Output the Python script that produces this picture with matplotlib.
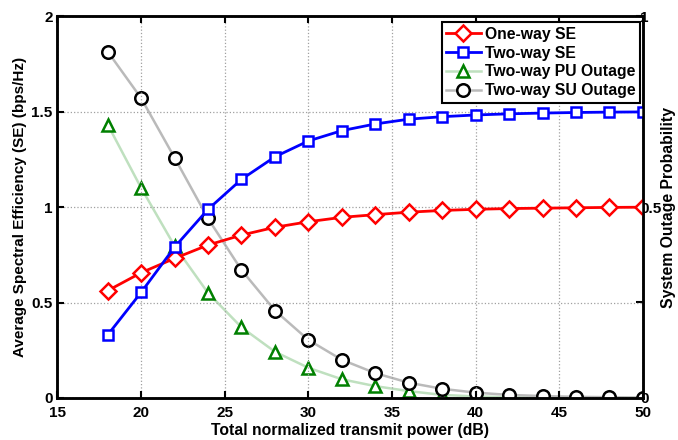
import numpy as np
import matplotlib
matplotlib.use('Agg')
import matplotlib.pyplot as plt

plt.rcParams['font.family'] = ['Liberation Sans', 'DejaVu Sans']
plt.rcParams['font.weight'] = 'bold'

# data
power_db = [18, 20, 22, 24, 26, 28, 30, 32, 34, 36, 38, 40, 42, 44, 46, 48, 50]
se_one_way = [0.562, 0.656, 0.731, 0.801, 0.853, 0.894, 0.923, 0.946, 0.960,
              0.973, 0.982, 0.988, 0.992, 0.994, 0.996, 0.998, 0.999]
se_two_way = [0.330, 0.553, 0.790, 0.988, 1.145, 1.263, 1.346, 1.400, 1.435,
              1.460, 1.473, 1.482, 1.488, 1.492, 1.495, 1.497, 1.498]
pu_outage = [0.716, 0.550, 0.398, 0.275, 0.185, 0.121, 0.079, 0.049, 0.031,
             0.018, 0.008, 0.004, 0.002, 0.001, 0.0008, 0.0005, 0.0003]
su_outage = [0.907, 0.785, 0.629, 0.470, 0.335, 0.229, 0.152, 0.100, 0.065,
             0.040, 0.024, 0.014, 0.008, 0.005, 0.003, 0.002, 0.001]

fig = plt.figure(figsize=(6.78, 4.4), dpi=100)
ax = fig.add_axes([0.0848, 0.0955, 0.8635, 0.868])
ax2 = ax.twinx()

h1, = ax.plot(power_db, se_one_way, color='red', lw=2, marker='D', ms=8,
              mfc='white', mec='red', mew=1.8, label='One-way SE')
h2, = ax.plot(power_db, se_two_way, color='blue', lw=2, marker='s', ms=7,
              mfc='white', mec='blue', mew=1.8, label='Two-way SE')
h3, = ax2.plot(power_db, pu_outage, color='#bfe0bf', lw=1.8, marker='^', ms=9,
               mfc='white', mec='green', mew=1.8, label='Two-way PU Outage')
h4, = ax2.plot(power_db, su_outage, color='#bababa', lw=1.8, marker='o', ms=9,
               mfc='white', mec='black', mew=1.8, label='Two-way SU Outage')
ax.set_zorder(ax2.get_zorder() + 1)
ax.patch.set_visible(False)

ax.set_xlim(15, 50)
ax.set_ylim(0, 2)
ax.set_xticks(range(15, 51, 5))
ax.set_yticks([0, 0.5, 1, 1.5, 2])
ax.set_yticklabels(['0', '0.5', '1', '1.5', '2'])
ax.grid(True, color='#a0a0a0', linestyle=':', linewidth=0.9)
ax.tick_params(direction='in', length=5, width=1.5, labelsize=11, top=True)
ax.tick_params(axis='x', pad=6)

ax2.set_ylim(0, 1)
ax2.set_yticks([0, 0.25, 0.5, 0.75, 1])
ax2.set_yticklabels(['0', '', '0.5', '', '1'])
ax2.tick_params(direction='in', length=5, width=1.5, labelsize=11, pad=-2)

for a in (ax, ax2):
    for s in a.spines.values():
        s.set_linewidth(1.8)

ax.set_xlabel('Total normalized transmit power (dB)', fontsize=11.3, fontweight='bold', labelpad=2)
ax.set_ylabel('Average Spectral Efficiency (SE) (bps/Hz)', fontsize=11, fontweight='bold')
ax.yaxis.set_label_coords(-0.064, 0.5)
ax.yaxis.label.set_verticalalignment('center')
ax2.set_ylabel('System Outage Probability', fontsize=11.3, fontweight='bold')
ax2.yaxis.set_label_coords(1.044, 0.5)
ax2.yaxis.label.set_verticalalignment('center')

leg = ax.legend(handles=[h1, h2, h3, h4], loc='upper right', fontsize=11.3,
                bbox_to_anchor=(0.995, 0.984), borderaxespad=0,
                frameon=True, fancybox=False,
                handlelength=2.2, handletextpad=0.25, labelspacing=0.24, borderpad=0.3)
leg.get_frame().set_edgecolor('black')
leg.get_frame().set_linewidth(1.5)
leg.get_frame().set_alpha(1)

fig.savefig('out.png', dpi=100)
